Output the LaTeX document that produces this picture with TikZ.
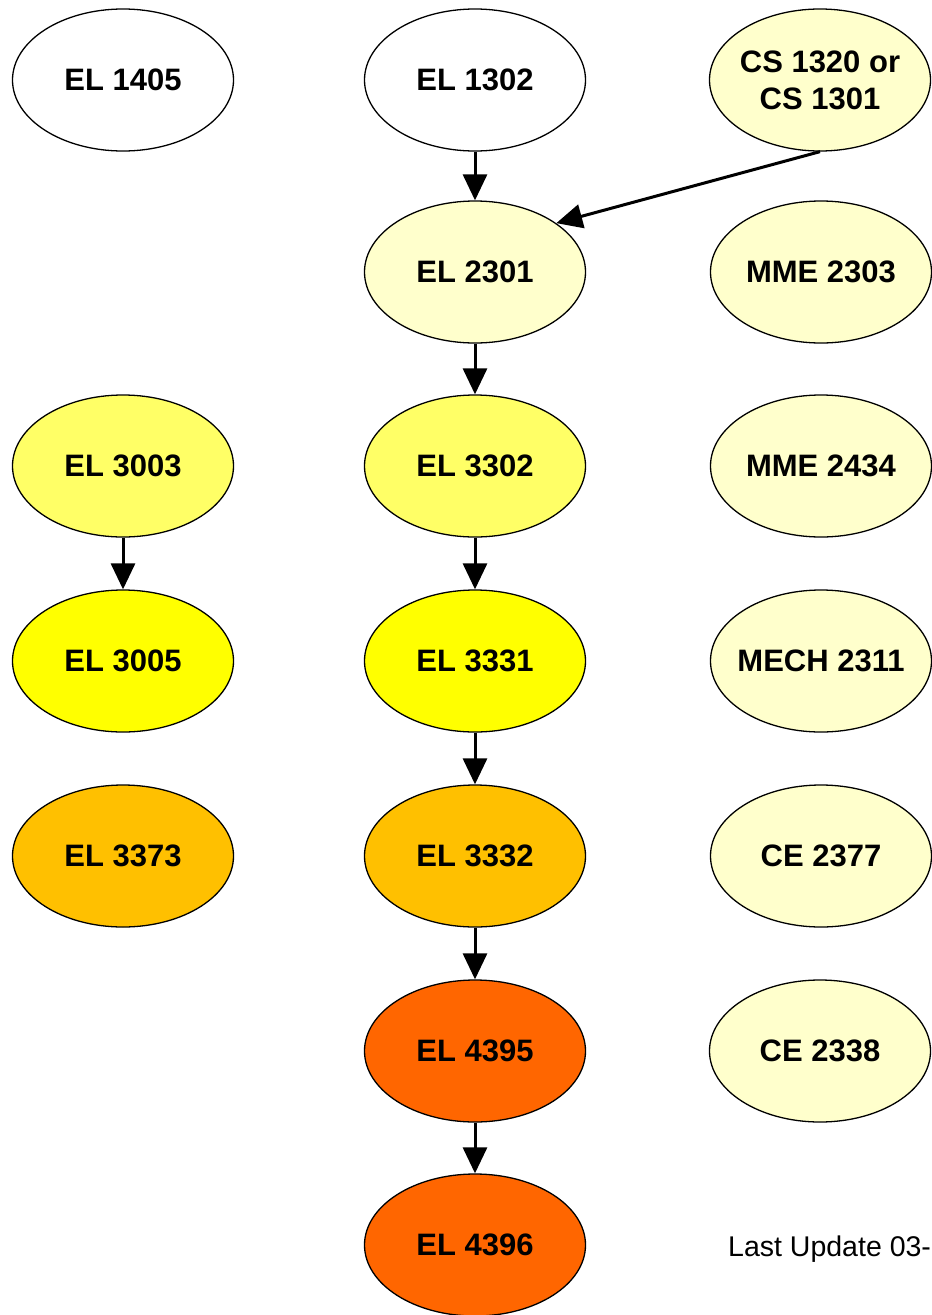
\documentclass[tikz,border=0pt]{standalone}
\usepackage{fontspec}
\setmainfont{Liberation Sans}
\usetikzlibrary{arrows.meta,shapes.geometric}
\begin{document}
\begin{tikzpicture}[x=1pt,y=-1pt,
  course/.style={ellipse,draw,line width=1.3pt,minimum width=221pt,minimum height=142pt,inner xsep=-12pt,inner ysep=0pt,
    font=\fontsize{31}{37}\selectfont\bfseries,align=center},
  prereq/.style={line width=3pt,-{Triangle[length=26pt,width=24pt]}}]
\definecolor{color1}{RGB}{255,255,204}
\definecolor{color2}{RGB}{255,255,102}
\definecolor{color3}{RGB}{255,255,0}
\definecolor{color4}{RGB}{255,192,0}
\definecolor{color5}{RGB}{255,102,0}
\useasboundingbox (0,0) rectangle (932,1315);
\node[course,fill=white] (EL1405) at (123,80) {EL 1405};
\node[course,fill=white] (EL1302) at (475,80) {EL 1302};
\node[course,fill=color1] (CS1320) at (820,80) {CS 1320 or\\CS 1301};
\node[course,fill=color1] (EL2301) at (475,272) {EL 2301};
\node[course,fill=color1] (MME2303) at (821,272) {MME 2303};
\node[course,fill=color2] (EL3003) at (123,466) {EL 3003};
\node[course,fill=color2] (EL3302) at (475,466) {EL 3302};
\node[course,fill=color1] (MME2434) at (821,466) {MME 2434};
\node[course,fill=color3] (EL3005) at (123,661) {EL 3005};
\node[course,fill=color3] (EL3331) at (475,661) {EL 3331};
\node[course,fill=color1] (MECH2311) at (821,661) {MECH 2311};
\node[course,fill=color4] (EL3373) at (123,856) {EL 3373};
\node[course,fill=color4] (EL3332) at (475,856) {EL 3332};
\node[course,fill=color1] (CE2377) at (821,856) {CE 2377};
\node[course,fill=color5] (EL4395) at (475,1051) {EL 4395};
\node[course,fill=color1] (CE2338) at (820,1051) {CE 2338};
\node[course,fill=color5] (EL4396) at (475,1245) {EL 4396};
\node[anchor=base west,font=\fontsize{28.5}{32}\selectfont,inner sep=0pt] (update) at (728,1256) {Last Update 03-};
\draw[prereq] (EL1302.south) -- (EL2301.north);
\draw[prereq] (CS1320.south) -- (EL2301.31);
\draw[prereq] (EL2301.south) -- (EL3302.north);
\draw[prereq] (EL3302.south) -- (EL3331.north);
\draw[prereq] (EL3331.south) -- (EL3332.north);
\draw[prereq] (EL3332.south) -- (EL4395.north);
\draw[prereq] (EL4395.south) -- (EL4396.north);
\draw[prereq] (EL3003.south) -- (EL3005.north);
\end{tikzpicture}
\end{document}
